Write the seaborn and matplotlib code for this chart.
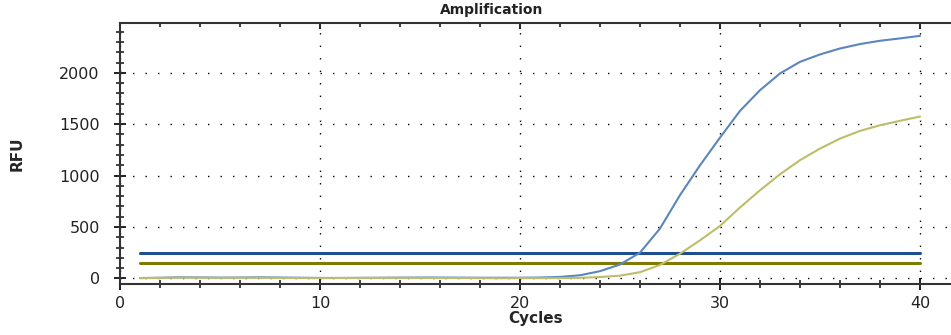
import numpy as np
import pandas as pd
import matplotlib
matplotlib.use("Agg")
import matplotlib.pyplot as plt
from matplotlib.ticker import MultipleLocator
import seaborn as sns

# Amplification data (RFU per cycle) for two wells
cycles = list(range(1, 41))
rfu_blue = [3, 6, 10, 9, 7, 8, 10, 8, 6, 4,
            4, 5, 6, 7, 8, 8, 7, 6, 6, 6,
            8, 14, 30, 70, 135, 250, 485, 810, 1100, 1370,
            1630, 1831, 1994, 2107, 2179, 2237, 2280, 2312, 2335, 2360]
rfu_yellow = [2, 4, 7, 6, 5, 6, 5, 4, 3, 2,
              3, 3, 4, 5, 4, 3, 3, 2, 1, 2,
              2, 3, 5, 13, 26, 60, 130, 240, 370, 510,
              690, 857, 1013, 1150, 1263, 1360, 1435, 1490, 1533, 1575]
threshold_blue = 250
threshold_olive = 150

df = pd.DataFrame({
    "Cycles": cycles * 2,
    "RFU": rfu_blue + rfu_yellow,
    "Well": ["A"] * len(cycles) + ["B"] * len(cycles),
})

sns.set_theme(style="white")
plt.rcParams["font.family"] = ["DejaVu Sans"]

fig = plt.figure(figsize=(9.51, 3.35), dpi=100)
ax = fig.add_axes([120 / 951, 1 - 284 / 335, 831 / 951, (284 - 23) / 335])

# threshold lines
ax.plot([cycles[0], cycles[-1]], [threshold_blue] * 2, color="#1f4e8c", lw=2.2, zorder=3)
ax.plot([cycles[0], cycles[-1]], [threshold_olive] * 2, color="#7f7a00", lw=2.2, zorder=3)

sns.lineplot(data=df, x="Cycles", y="RFU", hue="Well",
             palette={"A": "#5b86bd", "B": "#bdbd6a"}, lw=1.5,
             legend=False, ax=ax, zorder=4)

ax.set_xlim(0, 831 / 20)
ax.set_ylim(-55, 2485)

ax.xaxis.set_major_locator(MultipleLocator(10))
ax.xaxis.set_minor_locator(MultipleLocator(2))
ax.yaxis.set_major_locator(MultipleLocator(500))
ax.yaxis.set_minor_locator(MultipleLocator(100))

ax.grid(True, which="major", color="black", linestyle=(0, (1, 8)), lw=1.0)
ax.set_axisbelow(True)

for side in ["left", "bottom", "top"]:
    ax.spines[side].set_visible(True)
    ax.spines[side].set_color("#333333")
    ax.spines[side].set_linewidth(1.5)
ax.spines["right"].set_visible(False)

ax.tick_params(axis="both", which="major", direction="inout", length=9, width=1.4,
               color="#222222", labelsize=11.5, labelcolor="#222222")
ax.tick_params(axis="both", which="minor", direction="inout", length=6, width=1.2,
               color="#222222")
ax.tick_params(axis="x", which="both", top=False, bottom=True)
ax.tick_params(axis="x", which="major", pad=4)
ax.tick_params(axis="y", which="major", pad=10)
ax.tick_params(axis="y", which="both", left=True, right=False)

# short inward ticks along the top edge
top = ax.secondary_xaxis("top")
top.xaxis.set_major_locator(MultipleLocator(10))
top.xaxis.set_minor_locator(MultipleLocator(2))
top.tick_params(which="major", direction="in", length=4, width=1.4, color="#222222",
                labeltop=False)
top.tick_params(which="minor", direction="in", length=3, width=1.2, color="#222222")
top.spines["top"].set_visible(False)

ax.set_xlabel("Cycles", fontsize=11, fontweight="bold", labelpad=0)
ax.set_ylabel("RFU", fontsize=11, fontweight="bold", labelpad=25)

fig.text(492 / 951, 1 - 10 / 335, "Amplification", ha="center", va="center",
         fontsize=10, fontweight="bold", color="#222222")

fig.savefig("out.png", dpi=100)
